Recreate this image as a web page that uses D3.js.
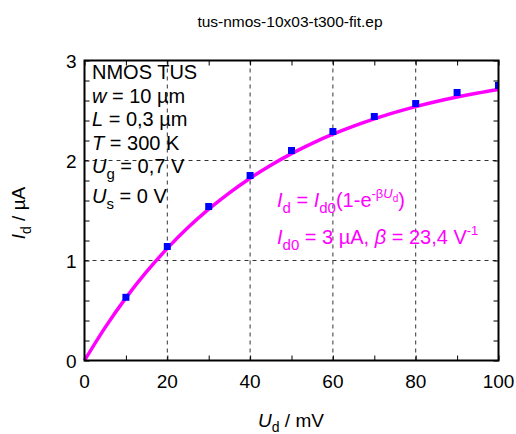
<!DOCTYPE html>
<html>
<head>
<meta charset="utf-8">
<script src="https://cdn.jsdelivr.net/npm/d3@7"></script>
<style>
  body { margin: 0; background: #fff; }
  svg text { font-family: "Liberation Sans", Arial, sans-serif; }
</style>
</head>
<body>
<div class="canvas"></div>
<script>
// measured points (U_d in mV, I_d in µA)
const udMeas = [10, 20, 30, 40, 50, 60, 70, 80, 90, 100];
const idMeas = [0.632, 1.14, 1.54, 1.85, 2.10, 2.29, 2.44, 2.57, 2.68, 2.75];

// fit curve I_d = 3 µA (1 - e^(-23.4 U_d)), read every 5 mV
const udFit = [0, 5, 10, 15, 20, 25, 30, 35, 40, 45, 50, 55, 60, 65, 70, 75, 80, 85, 90, 95, 100];
const idFit = [0, 0.331, 0.626, 0.888, 1.121, 1.329, 1.513, 1.677, 1.823, 1.953, 2.069,
               2.172, 2.263, 2.344, 2.417, 2.481, 2.539, 2.590, 2.635, 2.675, 2.711];

const xTicks = [0, 20, 40, 60, 80, 100];
const yTicks = [0, 1, 2, 3];

const dims = { width: 516, height: 434, left: 84.5, right: 498.5, top: 60.5, bottom: 360.5 };

const svg = d3.select('.canvas')
    .append('svg')
    .attr('width', dims.width)
    .attr('height', dims.height);

const x = d3.scaleLinear().domain([0, 100]).range([dims.left, dims.right]);
const y = d3.scaleLinear().domain([0, 3]).range([dims.bottom, dims.top]);

// title
svg.append('text')
    .attr('x', 290).attr('y', 27)
    .attr('text-anchor', 'middle')
    .attr('font-size', 15.5)
    .text('tus-nmos-10x03-t300-fit.ep');

// grid
const grid = svg.append('g')
    .attr('stroke', '#333')
    .attr('stroke-width', 1)
    .attr('stroke-dasharray', '4,4');

grid.selectAll('.gx').data(xTicks.slice(1, -1)).enter()
    .append('line')
    .attr('x1', d => x(d)).attr('x2', d => x(d))
    .attr('y1', dims.top).attr('y2', dims.bottom);

grid.selectAll('.gy').data(yTicks.slice(1, -1)).enter()
    .append('line')
    .attr('y1', d => y(d)).attr('y2', d => y(d))
    .attr('x1', dims.left).attr('x2', dims.right);

// axes with inward ticks
const bottomAxis = d3.axisBottom(x).tickValues(d3.range(0, 101, 10)).tickSize(-5).tickFormat('');
const topAxis = d3.axisTop(x).tickValues(d3.range(0, 101, 10)).tickSize(-5).tickFormat('');
const leftAxis = d3.axisLeft(y).tickValues(d3.range(0, 3.01, 0.2)).tickSize(-5).tickFormat('');
const rightAxis = d3.axisRight(y).tickValues(d3.range(0, 3.01, 0.2)).tickSize(-5).tickFormat('');

const axes = [
    [bottomAxis, `translate(0,${dims.bottom})`],
    [topAxis, `translate(0,${dims.top})`],
    [leftAxis, `translate(${dims.left},0)`],
    [rightAxis, `translate(${dims.right},0)`]
];
axes.forEach(([ax, tr]) => {
    const g = svg.append('g').attr('transform', tr).call(ax);
    g.select('.domain').remove();
    g.selectAll('line').attr('stroke', '#000').attr('stroke-width', 1);
});

// tick labels
svg.append('g').selectAll('text').data(xTicks).enter()
    .append('text')
    .attr('x', d => x(d)).attr('y', dims.bottom + 27)
    .attr('text-anchor', 'middle')
    .attr('font-size', 19)
    .text(d => d);

svg.append('g').selectAll('text').data(yTicks).enter()
    .append('text')
    .attr('x', dims.left - 8).attr('y', d => y(d) + 7)
    .attr('text-anchor', 'end')
    .attr('font-size', 19)
    .text(d => d);

// fit line
const fitData = udFit.map((u, i) => [u, idFit[i]]);
svg.append('path')
    .datum(fitData)
    .attr('fill', 'none')
    .attr('stroke', '#ff00ff')
    .attr('stroke-width', 3.5)
    .attr('d', d3.line().x(d => x(d[0])).y(d => y(d[1])).curve(d3.curveMonotoneX));

// measured points
svg.append('clipPath').attr('id', 'plotclip')
    .append('rect')
    .attr('x', dims.left).attr('y', dims.top)
    .attr('width', dims.right - dims.left).attr('height', dims.bottom - dims.top);

svg.append('g').attr('clip-path', 'url(#plotclip)')
    .selectAll('rect').data(udMeas).enter()
    .append('rect')
    .attr('x', d => x(d) - 3.5)
    .attr('y', (d, i) => y(idMeas[i]) - 3.5)
    .attr('width', 7).attr('height', 7)
    .attr('fill', '#0000ff');

// frame
svg.append('rect')
    .attr('x', dims.left).attr('y', dims.top)
    .attr('width', dims.right - dims.left).attr('height', dims.bottom - dims.top)
    .attr('fill', 'none')
    .attr('stroke', '#000')
    .attr('stroke-width', 2);

// axis titles
svg.append('text')
    .attr('x', 291).attr('y', 427)
    .attr('text-anchor', 'middle')
    .attr('font-size', 19)
    .call(t => {
        t.append('tspan').attr('font-style', 'italic').text('U');
        t.append('tspan').attr('font-size', 14).attr('dy', 5).text('d');
        t.append('tspan').attr('dy', -5).text(' / mV');
    });

svg.append('text')
    .attr('transform', 'translate(25,213) rotate(-90)')
    .attr('text-anchor', 'middle')
    .attr('font-size', 19)
    .call(t => {
        t.append('tspan').attr('font-style', 'italic').text('I');
        t.append('tspan').attr('font-size', 14).attr('dy', 6).text('d');
        t.append('tspan').attr('dy', -6).text(' / µA');
    });

// info text
const info = svg.append('g').attr('font-size', 20).attr('fill', '#000');
info.append('text').attr('x', 92).attr('y', 79).text('NMOS TUS');
info.append('text').attr('x', 92).attr('y', 103).call(t => {
    t.append('tspan').attr('font-style', 'italic').text('w');
    t.append('tspan').text(' = 10 µm');
});
info.append('text').attr('x', 92).attr('y', 126).call(t => {
    t.append('tspan').attr('font-style', 'italic').text('L');
    t.append('tspan').text(' = 0,3 µm');
});
info.append('text').attr('x', 92).attr('y', 150).call(t => {
    t.append('tspan').attr('font-style', 'italic').text('T');
    t.append('tspan').text(' = 300 K');
});
info.append('text').attr('x', 92).attr('y', 173).call(t => {
    t.append('tspan').attr('font-style', 'italic').text('U');
    t.append('tspan').attr('font-size', 15).attr('dy', 6).text('g');
    t.append('tspan').attr('dy', -6).text(' = 0,7 V');
});
info.append('text').attr('x', 92).attr('y', 203).call(t => {
    t.append('tspan').attr('font-style', 'italic').text('U');
    t.append('tspan').attr('font-size', 15).attr('dy', 6).text('s');
    t.append('tspan').attr('dy', -6).text(' = 0 V');
});

// fit formula
const fit = svg.append('g').attr('font-size', 20).attr('fill', '#ff00ff');
fit.append('text').attr('x', 277).attr('y', 207).call(t => {
    t.append('tspan').attr('font-style', 'italic').text('I');
    t.append('tspan').attr('font-size', 15).attr('dy', 6).text('d');
    t.append('tspan').attr('dy', -6).text(' = ');
    t.append('tspan').attr('font-style', 'italic').text('I');
    t.append('tspan').attr('font-size', 15).attr('dy', 6).text('d0');
    t.append('tspan').attr('dy', -6).text('(1-e');
    t.append('tspan').attr('font-size', 13).attr('dy', -9).text('-β');
    t.append('tspan').attr('font-size', 13).attr('font-style', 'italic').text('U');
    t.append('tspan').attr('font-size', 10).attr('dy', 4).text('d');
    t.append('tspan').attr('dy', 5).text(')');
});
fit.append('text').attr('x', 277).attr('y', 244).call(t => {
    t.append('tspan').attr('font-style', 'italic').text('I');
    t.append('tspan').attr('font-size', 15).attr('dy', 6).text('d0');
    t.append('tspan').attr('dy', -6).text(' = 3 µA, ');
    t.append('tspan').attr('font-style', 'italic').text('β');
    t.append('tspan').text(' = 23,4 V');
    t.append('tspan').attr('font-size', 13).attr('dy', -9).text('-1');
});
</script>
</body>
</html>
